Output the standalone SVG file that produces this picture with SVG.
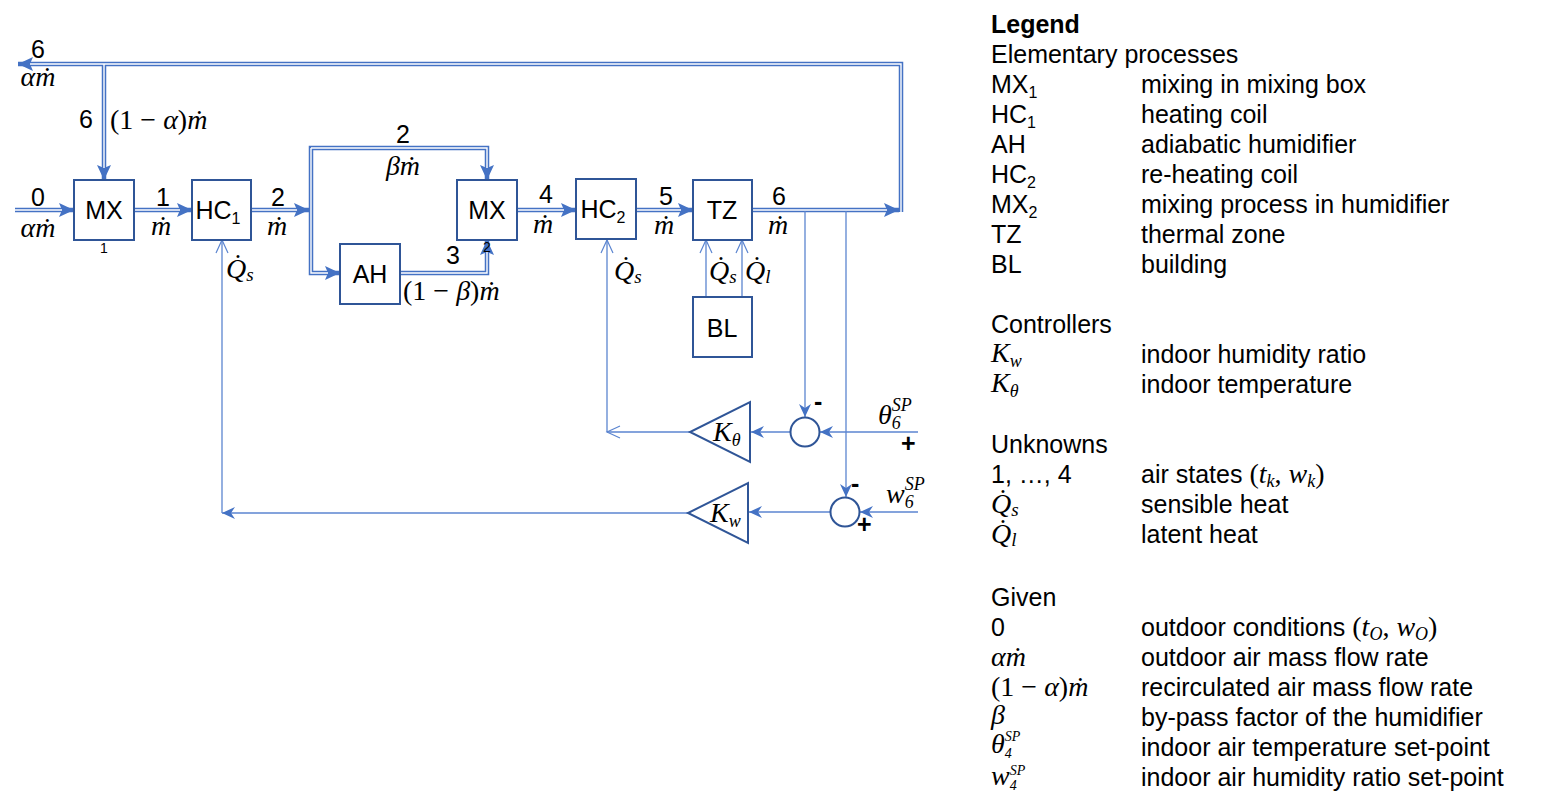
<svg xmlns="http://www.w3.org/2000/svg" width="1564" height="806" viewBox="0 0 1564 806">
<style>
.box{fill:#fff;stroke:#2F5597;stroke-width:2}
.dbl{fill:none;stroke:#4472C4;stroke-width:4.5}
.dbli{fill:none;stroke:#fff;stroke-width:1.4}
.ctl{fill:none;stroke:#5B85D0;stroke-width:1.3}
.tri{fill:#fff;stroke:#2F5597;stroke-width:2}
.s{font-family:"Liberation Sans",Arial,sans-serif;font-size:25px;fill:#000}
.sm{font-family:"Liberation Sans",Arial,sans-serif;font-size:14px;fill:#000}
.m{font-family:"Liberation Serif","Times New Roman",serif;font-style:italic;font-size:28px;fill:#000}
.mu{font-family:"Liberation Serif","Times New Roman",serif;font-style:normal;font-size:28px;fill:#000}
.b{font-weight:bold}
</style>
<defs>
<marker id="ah" markerUnits="userSpaceOnUse" markerWidth="18" markerHeight="18" refX="15" refY="9" orient="auto">
<path d="M0,2 L15,9 L0,16 L3,9 Z" fill="#4472C4"/>
</marker>
<marker id="as" markerUnits="userSpaceOnUse" markerWidth="16" markerHeight="16" refX="13" refY="8" orient="auto">
<path d="M0,2 L13,8 L0,14 L4,8 Z" fill="#4472C4"/>
</marker>
<marker id="ao" markerUnits="userSpaceOnUse" markerWidth="16" markerHeight="16" refX="14" refY="8" orient="auto">
<path d="M1,2 L14,8 L1,14" fill="none" stroke="#5B85D0" stroke-width="1.2"/>
</marker>
</defs>

<g id="connectors">
<path class="dbl" d="M15,210 H74" marker-end="url(#ah)"/>
<path class="dbli" d="M15,210 H62"/>
<path class="dbl" d="M134,210 H192" marker-end="url(#ah)"/>
<path class="dbli" d="M134,210 H180"/>
<path class="dbl" d="M251,210 H309" marker-end="url(#ah)"/>
<path class="dbli" d="M251,210 H297"/>
<path class="dbl" d="M311,210 V148 H487 V180" marker-end="url(#ah)"/>
<path class="dbl" d="M311,210 V273 H340" marker-end="url(#ah)"/>
<path class="dbli" d="M311,148 V273 H328"/>
<path class="dbli" d="M311,148 H487 V168"/>
<path class="dbl" d="M400,273 H487 V240" marker-end="url(#ah)"/>
<path class="dbli" d="M400,273 H487 V252"/>
<path class="dbl" d="M517,210 H576" marker-end="url(#ah)"/>
<path class="dbli" d="M517,210 H564"/>
<path class="dbl" d="M636,210 H693" marker-end="url(#ah)"/>
<path class="dbli" d="M636,210 H681"/>
<path class="dbl" d="M752,210 H899" marker-end="url(#ah)"/>
<path class="dbli" d="M752,210 H887"/>
<path class="dbl" d="M901,212 V64 H18" marker-end="url(#ah)"/>
<path class="dbl" d="M104,64 V180" marker-end="url(#ah)"/>
<path class="dbli" d="M901,212 V64 H30"/>
<path class="dbli" d="M104,64 V168"/>
<path class="ctl" d="M805,211 V417" marker-end="url(#as)"/>
<path class="ctl" d="M846,211 V497" marker-end="url(#as)"/>
<path class="ctl" d="M918,432 H820" marker-end="url(#as)"/>
<path class="ctl" d="M918,512 H860" marker-end="url(#as)"/>
<path class="ctl" d="M790,432 H751" marker-end="url(#as)"/>
<path class="ctl" d="M830,512 H749" marker-end="url(#as)"/>
<path class="ctl" d="M690,432 H607" marker-end="url(#ao)"/>
<path class="ctl" d="M607,432 V240" marker-end="url(#ao)"/>
<path class="ctl" d="M688,513 H222" marker-end="url(#as)"/>
<path class="ctl" d="M222,513 V240" marker-end="url(#ao)"/>
<path class="ctl" d="M706,297 V240" marker-end="url(#ao)"/>
<path class="ctl" d="M742,297 V240" marker-end="url(#ao)"/>
</g>

<g id="MX1"><rect class="box" x="74" y="180" width="60" height="60"/><text class="s" x="104" y="219" text-anchor="middle">MX</text><text class="sm" x="104" y="253" text-anchor="middle">1</text></g>
<g id="HC1"><rect class="box" x="192" y="180" width="59" height="60"/><text class="s" x="218" y="219" text-anchor="middle">HC<tspan font-size="16" dy="5">1</tspan></text></g>
<g id="AH"><rect class="box" x="340" y="244" width="60" height="60"/><text class="s" x="370" y="283" text-anchor="middle">AH</text></g>
<g id="MX2"><text class="sm" x="487" y="252" text-anchor="middle">2</text><rect class="box" x="457" y="180" width="60" height="60"/><text class="s" x="487" y="219" text-anchor="middle">MX</text></g>
<g id="HC2"><rect class="box" x="576" y="179" width="60" height="60"/><text class="s" x="603" y="218" text-anchor="middle">HC<tspan font-size="16" dy="5">2</tspan></text></g>
<g id="TZ"><rect class="box" x="693" y="180" width="59" height="60"/><text class="s" x="722" y="219" text-anchor="middle">TZ</text></g>
<g id="BL"><rect class="box" x="693" y="297" width="59" height="60"/><text class="s" x="722" y="337" text-anchor="middle">BL</text></g>

<g id="sum1"><circle cx="805" cy="432" r="14.5" fill="#fff" stroke="#2F5597" stroke-width="2"/></g>
<g id="sum2"><circle cx="845" cy="512" r="14.5" fill="#fff" stroke="#2F5597" stroke-width="2"/></g>
<g id="Ktheta"><polygon class="tri" points="750,402 750,462 690,432"/><text class="m" x="713" y="441">K<tspan font-size="18" dy="5">θ</tspan></text></g>
<g id="Kw"><polygon class="tri" points="748,483 748,543 688,513"/><text class="m" x="710" y="522">K<tspan font-size="18" dy="5">w</tspan></text></g>

<g id="labels">
<text class="s" x="38" y="58" text-anchor="middle">6</text>
<text class="m" x="38" y="86" text-anchor="middle">αṁ</text>
<text class="s" x="86" y="128" text-anchor="middle">6</text>
<text class="mu" x="110" y="129">(1 − <tspan class="m">α</tspan>)<tspan class="m">ṁ</tspan></text>
<text class="s" x="38" y="206" text-anchor="middle">0</text>
<text class="m" x="38" y="237" text-anchor="middle">αṁ</text>
<text class="s" x="163" y="206" text-anchor="middle">1</text>
<text class="m" x="161" y="235" text-anchor="middle">ṁ</text>
<text class="s" x="278" y="206" text-anchor="middle">2</text>
<text class="m" x="277" y="235" text-anchor="middle">ṁ</text>
<text class="s" x="403" y="143" text-anchor="middle">2</text>
<text class="m" x="403" y="175" text-anchor="middle">βṁ</text>
<text class="s" x="453" y="264" text-anchor="middle">3</text>
<text class="mu" x="403" y="300">(1 − <tspan class="m">β</tspan>)<tspan class="m">ṁ</tspan></text>
<text class="s" x="546" y="203" text-anchor="middle">4</text>
<text class="m" x="543" y="233" text-anchor="middle">ṁ</text>
<text class="s" x="666" y="205" text-anchor="middle">5</text>
<text class="m" x="664" y="234" text-anchor="middle">ṁ</text>
<text class="s" x="779" y="205" text-anchor="middle">6</text>
<text class="m" x="778" y="234" text-anchor="middle">ṁ</text>
<text class="m" x="226" y="278">Q̇<tspan font-size="19" dy="3">s</tspan></text>
<text class="m" x="614" y="280">Q̇<tspan font-size="19" dy="3">s</tspan></text>
<text class="m" x="709" y="280">Q̇<tspan font-size="19" dy="3">s</tspan></text>
<text class="m" x="745" y="280">Q̇<tspan font-size="19" dy="3">l</tspan></text>
<text class="s b" x="814" y="410">-</text>
<text class="s b" x="851" y="492">-</text>
<text class="s b" x="901" y="452">+</text>
<text class="s b" x="857" y="533">+</text>
<text class="m" x="878" y="424">θ<tspan font-size="18" dy="5">6</tspan><tspan font-size="18" dx="-9" dy="-18">SP</tspan></text>
<text class="m" x="886" y="503">w<tspan font-size="18" dy="5">6</tspan><tspan font-size="18" dx="-9" dy="-18">SP</tspan></text>
</g>

<g id="legend">
<text class="s b" x="991" y="33">Legend</text>
<text class="s" x="991" y="63">Elementary processes</text>
<text class="s" x="991" y="93">MX<tspan font-size="16" dy="5">1</tspan></text><text class="s" x="1141" y="93">mixing in mixing box</text>
<text class="s" x="991" y="123">HC<tspan font-size="16" dy="5">1</tspan></text><text class="s" x="1141" y="123">heating coil</text>
<text class="s" x="991" y="153">AH</text><text class="s" x="1141" y="153">adiabatic humidifier</text>
<text class="s" x="991" y="183">HC<tspan font-size="16" dy="5">2</tspan></text><text class="s" x="1141" y="183">re-heating coil</text>
<text class="s" x="991" y="213">MX<tspan font-size="16" dy="5">2</tspan></text><text class="s" x="1141" y="213">mixing process in humidifier</text>
<text class="s" x="991" y="243">TZ</text><text class="s" x="1141" y="243">thermal zone</text>
<text class="s" x="991" y="273">BL</text><text class="s" x="1141" y="273">building</text>
<text class="s" x="991" y="333">Controllers</text>
<text class="m" x="991" y="362">K<tspan font-size="18" dy="5">w</tspan></text><text class="s" x="1141" y="363">indoor humidity ratio</text>
<text class="m" x="991" y="392">K<tspan font-size="18" dy="5">θ</tspan></text><text class="s" x="1141" y="393">indoor temperature</text>
<text class="s" x="991" y="453">Unknowns</text>
<text class="s" x="991" y="483">1, …, 4</text><text class="s" x="1141" y="483">air states <tspan class="mu">(</tspan><tspan class="m">t<tspan font-size="18" dy="4">k</tspan></tspan><tspan class="mu" dy="-4">, </tspan><tspan class="m">w<tspan font-size="18" dy="4">k</tspan></tspan><tspan class="mu" dy="-4">)</tspan></text>
<text class="m" x="991" y="513">Q̇<tspan font-size="19" dy="3">s</tspan></text><text class="s" x="1141" y="513">sensible heat</text>
<text class="m" x="991" y="543">Q̇<tspan font-size="19" dy="3">l</tspan></text><text class="s" x="1141" y="543">latent heat</text>
<text class="s" x="991" y="606">Given</text>
<text class="s" x="991" y="636">0</text><text class="s" x="1141" y="636">outdoor conditions <tspan class="mu">(</tspan><tspan class="m">t<tspan font-size="18" dy="4">O</tspan></tspan><tspan class="mu" dy="-4">, </tspan><tspan class="m">w<tspan font-size="18" dy="4">O</tspan></tspan><tspan class="mu" dy="-4">)</tspan></text>
<text class="m" x="991" y="666">αṁ</text><text class="s" x="1141" y="666">outdoor air mass flow rate</text>
<text class="mu" x="991" y="696">(1 − <tspan class="m">α</tspan>)<tspan class="m">ṁ</tspan></text><text class="s" x="1141" y="696">recirculated air mass flow rate</text>
<text class="m" x="991" y="724">β</text><text class="s" x="1141" y="726">by-pass factor of the humidifier</text>
<text class="m" x="991" y="753">θ<tspan font-size="14" dy="5">4</tspan><tspan font-size="14" dx="-7" dy="-17">SP</tspan></text><text class="s" x="1141" y="756">indoor air temperature set-point</text>
<text class="m" x="991" y="785">w<tspan font-size="14" dy="5">4</tspan><tspan font-size="14" dx="-7" dy="-15">SP</tspan></text><text class="s" x="1141" y="786">indoor air humidity ratio set-point</text>
</g>
</svg>
